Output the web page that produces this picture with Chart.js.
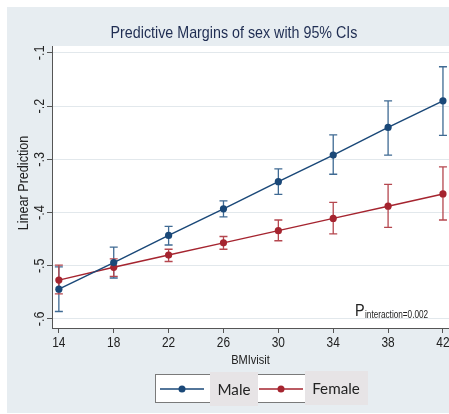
<!DOCTYPE html>
<html>
<head>
<meta charset="utf-8">
<script src="https://cdn.jsdelivr.net/npm/chart.js@4.4.1/dist/chart.umd.min.js"></script>
<style>
html,body{margin:0;padding:0;background:#ffffff;}
canvas{display:block;}
</style>
</head>
<body>
<canvas id="c" width="449" height="414"></canvas>
<script>
// ---- data ----
const bmi = [14, 18, 22, 26, 30, 34, 38, 42];
const maleMargin   = [-0.544, -0.494, -0.443, -0.393, -0.342, -0.292, -0.240, -0.190];
const maleLower    = [-0.586, -0.523, -0.461, -0.408, -0.366, -0.328, -0.292, -0.255];
const maleUpper    = [-0.502, -0.465, -0.426, -0.378, -0.318, -0.254, -0.190, -0.126];
const femaleMargin = [-0.527, -0.503, -0.480, -0.457, -0.434, -0.411, -0.388, -0.365];
const femaleLower  = [-0.553, -0.520, -0.492, -0.469, -0.453, -0.440, -0.428, -0.414];
const femaleUpper  = [-0.499, -0.487, -0.469, -0.445, -0.414, -0.381, -0.347, -0.314];
const yTicks = [-0.6, -0.5, -0.4, -0.3, -0.2, -0.1];
const yTickLabels = ['-.6', '-.5', '-.4', '-.3', '-.2', '-.1'];
const xTicks = [14, 18, 22, 26, 30, 34, 38, 42];
const xTickLabels = ['14', '18', '22', '26', '30', '34', '38', '42'];
const seriesNames = ['Male', 'Female'];

const MALE = '#1a4878';
const MALE_BAR = '#3f6a93';
const FEMALE = '#a5242f';
const FEMALE_BAR = '#b5474f';
const FONT = '"Liberation Sans", Arial, sans-serif';

function txt(ctx, s, x, y, font, color, align, sx, rot) {
  ctx.save();
  ctx.font = font; ctx.fillStyle = color;
  ctx.textAlign = align || 'center';
  ctx.textBaseline = 'middle';
  ctx.translate(x, y);
  if (rot) ctx.rotate(rot);
  ctx.scale(sx || 1, 1);
  ctx.fillText(s, 0, 0);
  ctx.restore();
}

const bgPlugin = {
  id: 'bg',
  beforeDraw(chart) {
    const ctx = chart.ctx, a = chart.chartArea;
    ctx.save();
    ctx.fillStyle = '#ffffff';
    ctx.fillRect(0, 0, chart.width, chart.height);
    ctx.fillStyle = '#e7edf1';
    ctx.fillRect(7, 7, chart.width - 7, chart.height - 8);
    ctx.fillStyle = '#ffffff';
    ctx.fillRect(a.left, a.top, a.right - a.left, a.bottom - a.top);
    ctx.restore();
  }
};

const errPlugin = {
  id: 'err',
  beforeDatasetsDraw(chart) {
    const ctx = chart.ctx, xs = chart.scales.x, ys = chart.scales.y;
    const sets = [[maleLower, maleUpper, MALE_BAR], [femaleLower, femaleUpper, FEMALE_BAR]];
    ctx.save();
    ctx.lineWidth = 1.3;
    sets.forEach(([lo, hi, col]) => {
      ctx.strokeStyle = col;
      bmi.forEach((b, i) => {
        const x = xs.getPixelForValue(b);
        const y1 = ys.getPixelForValue(lo[i]);
        const y2 = ys.getPixelForValue(hi[i]);
        ctx.beginPath();
        ctx.moveTo(x, y1); ctx.lineTo(x, y2);
        ctx.moveTo(x - 4, y1); ctx.lineTo(x + 4, y1);
        ctx.moveTo(x - 4, y2); ctx.lineTo(x + 4, y2);
        ctx.stroke();
      });
    });
    ctx.restore();
  }
};

const textPlugin = {
  id: 'texts',
  afterDraw(chart) {
    const ctx = chart.ctx, xs = chart.scales.x, ys = chart.scales.y, a = chart.chartArea;
    const dark = '#222222';
    // title
    txt(ctx, 'Predictive Margins of sex with 95% CIs', 234, 33, '17px ' + FONT, '#1f2d52', 'center', 0.84);
    // y tick labels (rotated)
    yTicks.forEach((v, i) => {
      txt(ctx, yTickLabels[i], 40, ys.getPixelForValue(v), '14px ' + FONT, dark, 'center', 0.9, -Math.PI / 2);
    });
    // y title
    txt(ctx, 'Linear Prediction', 24, (a.top + a.bottom) / 2 - 4, '14px ' + FONT, dark, 'center', 0.9, -Math.PI / 2);
    // x tick labels
    xTicks.forEach((v, i) => {
      txt(ctx, xTickLabels[i], xs.getPixelForValue(v), 343, '14px ' + FONT, dark, 'center', 0.85);
    });
    // x title
    txt(ctx, 'BMIvisit', (a.left + a.right) / 2, 360, '13px ' + FONT, dark, 'center', 0.85);
    // P interaction
    txt(ctx, 'P', 355, 311, '17px ' + FONT, dark, 'left', 0.85);
    txt(ctx, 'interaction=0.002', 365, 315, '10px ' + FONT, dark, 'left', 0.82);

    // legend
    ctx.save();
    ctx.fillStyle = '#ffffff';
    ctx.fillRect(155, 374, 170, 28);
    ctx.strokeStyle = '#7a7a7a';
    ctx.lineWidth = 1;
    ctx.strokeRect(155.5, 374.5, 170, 28);
    ctx.fillStyle = '#e7e4e6';
    ctx.fillRect(210, 372, 48, 34);
    ctx.fillRect(305, 371, 63, 34);
    const items = [[160, 204, 182, MALE], [259, 303, 281, FEMALE]];
    items.forEach(([x1, x2, xm, col]) => {
      ctx.strokeStyle = col; ctx.lineWidth = 1.5;
      ctx.beginPath(); ctx.moveTo(x1, 389); ctx.lineTo(x2, 389); ctx.stroke();
      ctx.fillStyle = col;
      ctx.beginPath(); ctx.arc(xm, 389, 3.5, 0, Math.PI * 2); ctx.fill();
    });
    ctx.restore();
    txt(ctx, seriesNames[0], 234, 390, '16px Lato, "Open Sans", sans-serif', dark, 'center', 0.95);
    txt(ctx, seriesNames[1], 336, 389, '16px Lato, "Open Sans", sans-serif', dark, 'center', 0.95);
  }
};

new Chart(document.getElementById('c'), {
  type: 'line',
  data: {
    datasets: [
      {
        label: seriesNames[0],
        data: bmi.map((b, i) => ({ x: b, y: maleMargin[i] })),
        borderColor: MALE, backgroundColor: MALE,
        pointBackgroundColor: MALE, pointBorderWidth: 0,
        pointRadius: 3.6, borderWidth: 1.5, tension: 0
      },
      {
        label: seriesNames[1],
        data: bmi.map((b, i) => ({ x: b, y: femaleMargin[i] })),
        borderColor: FEMALE, backgroundColor: FEMALE,
        pointBackgroundColor: FEMALE, pointBorderWidth: 0,
        pointRadius: 3.6, borderWidth: 1.5, tension: 0
      }
    ]
  },
  options: {
    responsive: false,
    animation: false,
    devicePixelRatio: 1,
    layout: { padding: { top: 46, left: 0, right: 0, bottom: 0 }, autoPadding: false },
    plugins: { legend: { display: false }, tooltip: { enabled: false }, title: { display: false } },
    scales: {
      x: {
        type: 'linear', min: 13.5, max: 42.44,
        afterBuildTicks: s => { s.ticks = xTicks.map(v => ({ value: v })); },
        afterFit: s => { s.height = 86; },
        ticks: { display: false },
        grid: { drawOnChartArea: false, drawTicks: true, tickLength: 5, tickColor: '#555555', lineWidth: 1 },
        border: { display: true, color: '#555555', width: 1 }
      },
      y: {
        type: 'linear', min: -0.617, max: -0.087,
        afterBuildTicks: s => { s.ticks = yTicks.map(v => ({ value: v })); },
        afterFit: s => { s.width = 52; },
        ticks: { display: false },
        grid: { color: '#e2e8ec', drawTicks: true, tickLength: 5, tickColor: '#555555', lineWidth: 1 },
        border: { display: true, color: '#555555', width: 1 }
      }
    }
  },
  plugins: [bgPlugin, errPlugin, textPlugin]
});
</script>
</body>
</html>
